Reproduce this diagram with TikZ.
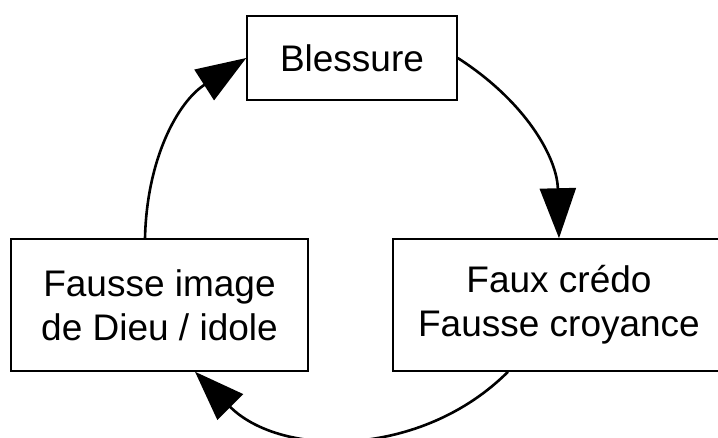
\documentclass[tikz,border=0pt]{standalone}
\usepackage{fontspec}
\setmainfont{Liberation Sans}
\usetikzlibrary{arrows.meta}

\begin{document}
\begin{tikzpicture}[x=0.5pt,y=0.5pt,
  stepbox/.style={draw=black,line width=0.75pt,align=center,inner sep=0pt,
    font=\fontsize{18.5}{22}\selectfont,minimum height=66pt},
  cycarrow/.style={line width=1.3pt,-{Triangle[length=25pt,width=18pt]}}]
\useasboundingbox (0,0) rectangle (718,438);
% boxes
\node [stepbox,minimum width=105pt,minimum height=42pt] (blessure) at (352,380) {Blessure};
\node [stepbox,minimum width=166pt] (credo) at (559,133) {Faux cr\'edo\\Fausse croyance};
\node [stepbox,minimum width=148.5pt] (idole) at (159.5,133) {Fausse image\\de Dieu / idole};
% cycle
\draw [cycarrow] (blessure.east) to[bend left=28] (credo.north);
\draw [cycarrow] ([xshift=-25.5pt]credo.south) to[bend left=45] ([xshift=17.75pt]idole.south);
\draw [cycarrow] ([xshift=-7.25pt]idole.north) to[bend left=28] (blessure.west);
\end{tikzpicture}
\end{document}
